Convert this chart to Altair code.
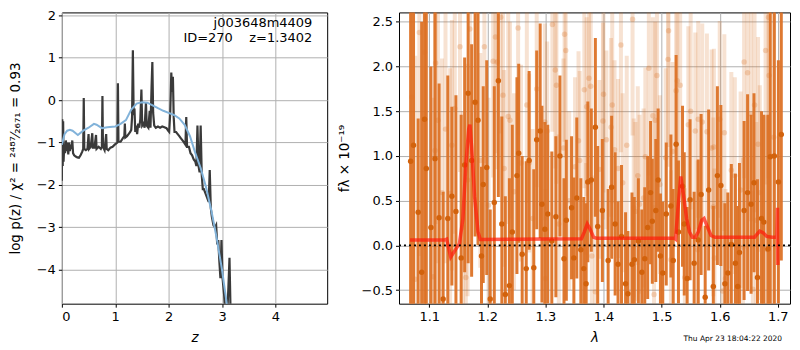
import altair as alt
import pandas as pd

# ---------------- left panel: log p(z) ----------------
pz_z = [0.000, 0.008, 0.016, 0.024, 0.032, 0.045, 0.060, 0.075, 0.090, 0.105, 0.120, 0.135, 0.150, 0.165,
        0.180, 0.195, 0.210, 0.230, 0.260, 0.290, 0.320, 0.350, 0.380, 0.400, 0.410, 0.420, 0.450, 0.480,
        0.500, 0.510, 0.540, 0.570, 0.580, 0.610, 0.640, 0.650, 0.690, 0.730, 0.750, 0.760, 0.770, 0.800,
        0.830, 0.840, 0.870, 0.910, 0.950, 0.990, 1.020, 1.040, 1.050, 1.060, 1.100, 1.140, 1.170, 1.180,
        1.190, 1.220, 1.250, 1.280, 1.300, 1.315, 1.330, 1.345, 1.360, 1.375, 1.390, 1.410, 1.430, 1.450,
        1.470, 1.490, 1.505, 1.530, 1.550, 1.575, 1.590, 1.620, 1.645, 1.660, 1.680, 1.695, 1.710, 1.730,
        1.760, 1.800, 1.840, 1.880, 1.920, 1.960, 1.990, 2.010, 2.030, 2.050, 2.065, 2.080, 2.095, 2.110,
        2.140, 2.170, 2.200, 2.230, 2.260, 2.290, 2.315, 2.330, 2.345, 2.380, 2.410, 2.440, 2.470, 2.500,
        2.520, 2.540, 2.560, 2.580, 2.600, 2.620, 2.640, 2.660, 2.690, 2.720, 2.750, 2.770, 2.790, 2.810,
        2.840, 2.870, 2.890, 2.910, 2.930, 2.950, 2.970, 2.990, 3.010, 3.040, 3.060, 3.100, 3.120, 3.140,
        3.160]
pz_logp = [-1.90, -0.45, -1.55, -0.50, -1.45, -1.05, -1.25, -0.95, -1.20, -1.00, -1.28, -1.00, -1.20, -1.05,
           -1.15, -0.95, -1.25, -1.30, -1.33, -1.35, -1.36, -1.30, -1.22, -1.15, 0.05, -1.15, -1.18, -1.15,
           -0.80, -1.15, -1.10, -0.78, -1.12, -1.12, -0.82, -1.15, -1.10, -1.15, -1.10, 0.10, -1.10, -1.18,
           -0.80, -1.15, -1.18, -1.12, -1.10, -1.05, -1.02, -1.00, 0.40, -0.98, -0.98, -0.90, -0.85, -0.55,
           -0.88, -0.85, -0.80, -0.75, -0.70, -0.40, 1.18, -0.35, -0.20, -0.75, -0.60, -0.80, -0.55, -0.65,
           -0.45, 0.25, -0.60, -0.55, -0.65, -0.05, -0.60, -0.65, -0.25, -0.65, 0.30, 0.90, -0.30, -0.60,
           -0.65, -0.62, -0.65, -0.62, -0.64, -0.66, -0.72, -0.75, -0.30, 0.65, 0.20, 0.55, -0.40, -0.75,
           -0.75, -0.80, -0.85, -0.90, -0.95, -1.00, -1.05, -0.40, -1.10, -1.10, -1.25, -1.30, -1.40, -1.45,
           -1.55, -0.60, -1.55, -1.70, -0.60, -1.75, -2.10, -2.10, -2.20, -2.30, -2.40, -1.65, -2.55, -2.75,
           -2.95, -3.00, -2.95, -3.40, -3.30, -3.80, -4.20, -3.30, -4.20, -4.60, -5.00, -5.00, -4.40, -3.72,
           -5.00]

smooth_z = [0.00, 0.05, 0.10, 0.15, 0.20, 0.30, 0.40, 0.50, 0.60, 0.65, 0.75, 0.85, 1.00, 1.10, 1.20,
            1.30, 1.40, 1.50, 1.60, 1.70, 1.80, 1.90, 2.00, 2.10, 2.20, 2.30, 2.40, 2.50, 2.60, 2.70,
            2.80, 2.90, 3.00, 3.10]
smooth_logp = [-1.05, -0.80, -0.72, -0.70, -0.72, -0.82, -0.72, -0.65, -0.56, -0.58, -0.66, -0.64, -0.62,
               -0.56, -0.47, -0.22, -0.08, -0.05, -0.06, -0.12, -0.19, -0.25, -0.30, -0.35, -0.43, -0.58,
               -0.85, -1.25, -1.60, -2.05, -2.60, -3.25, -4.00, -4.90]

# ---------------- right panel: spectrum ----------------
dark_lam = [1.068, 1.073, 1.081, 1.087, 1.092, 1.095, 1.103, 1.110, 1.117, 1.124, 1.132, 1.139, 1.146, 1.155,
            1.161, 1.167, 1.173, 1.179, 1.184, 1.190, 1.193, 1.199, 1.205, 1.212, 1.219, 1.225, 1.231, 1.238,
            1.243, 1.251, 1.254, 1.260, 1.267, 1.272, 1.280, 1.285, 1.291, 1.294, 1.299, 1.304, 1.311, 1.318,
            1.325, 1.332, 1.336, 1.345, 1.349, 1.354, 1.361, 1.366, 1.370, 1.373, 1.379, 1.386, 1.390, 1.398,
            1.408, 1.414, 1.420, 1.425, 1.431, 1.438, 1.442, 1.449, 1.453, 1.460, 1.466, 1.471, 1.476, 1.481,
            1.484, 1.490, 1.494, 1.498, 1.502, 1.508, 1.516, 1.520, 1.525, 1.529, 1.536, 1.539, 1.544, 1.549,
            1.556, 1.563, 1.568, 1.575, 1.581, 1.589, 1.596, 1.602, 1.609, 1.614, 1.620, 1.627, 1.631, 1.634,
            1.642, 1.648, 1.654, 1.659, 1.665, 1.672, 1.676, 1.683, 1.687, 1.694, 1.701, 1.706]
dark_flux = [0.94, 1.12, 0.37, -0.30, 1.41, 0.86, 0.20, 0.97, 0.31, -0.60, 0.30, 0.55, 0.38, -0.14,
             0.90, 1.70, 0.95, 1.60, 1.40, -0.12, 0.68, 0.87, -0.60, 0.48, 1.84, 0.24, -0.55, -0.45,
             0.15, 0.78, 1.03, -0.10, -0.26, 0.95, -0.25, 1.18, 1.28, 0.46, 0.18, 0.35, 0.05, 0.32,
             1.00, -0.15, 0.28, 0.42, -0.14, 0.53, -0.05, -0.26, -0.43, 0.71, 0.73, 1.32, 0.21, 0.39,
             -0.17, 0.65, 0.24, -0.21, 0.10, -0.43, -0.54, -0.21, -0.16, 0.05, -0.30, -0.15, 0.20, 0.59,
             0.27, 0.39, 0.73, -0.12, -0.31, 0.35, 0.44, -0.17, 1.13, 0.15, 0.66, 0.24, -0.37, 0.51,
             -0.20, 0.06, 0.57, -0.58, 0.62, -0.46, 0.78, 0.67, -0.43, -0.31, 0.01, -0.20, -0.46, -0.08,
             0.39, 0.59, 0.46, 0.70, -0.36, 0.30, 0.26, -0.04, 0.99, 1.00, 0.71, 1.24]
dark_err = [3.0, 2.6, 1.05, 2.8, 2.5, 2.2, 1.8, 2.0, 1.5, 1.2, 1.6, 1.0, 1.3, 1.6,
            1.2, 1.9, 1.3, 1.5, 1.4, 1.0, 1.1, 1.2, 1.0, 1.3, 1.3, 1.2, 1.1, 1.2,
            1.2, 1.1, 1.0, 1.1, 1.2, 1.0, 1.1, 1.0, 1.2, 1.1, 1.2, 1.0, 1.0, 0.9,
            0.9, 0.9, 0.9, 0.8, 0.9, 0.9, 0.8, 0.8, 0.9, 0.9, 0.8, 1.0, 0.9, 0.8,
            0.8, 0.8, 0.8, 0.7, 0.8, 0.8, 0.7, 0.8, 0.7, 0.7, 0.7, 0.8, 0.8, 0.8,
            0.7, 0.8, 0.8, 0.7, 0.8, 0.8, 0.8, 0.8, 1.0, 0.8, 0.9, 0.8, 0.8, 0.9,
            0.8, 0.9, 0.9, 0.8, 0.9, 0.9, 1.0, 0.9, 0.9, 0.9, 0.9, 1.0, 0.9, 1.0,
            1.0, 1.1, 1.0, 1.0, 1.1, 1.2, 1.2, 1.5, 1.8, 2.5, 1.36, 1.41]

light_lam = [1.070, 1.076, 1.083, 1.092, 1.107, 1.110, 1.111, 1.115, 1.122, 1.128, 1.136, 1.139, 1.144,
             1.153, 1.158, 1.163, 1.166, 1.170, 1.181, 1.188, 1.195, 1.202, 1.210, 1.214, 1.217, 1.223,
             1.227, 1.229, 1.236, 1.239, 1.246, 1.253, 1.258, 1.268, 1.272, 1.278, 1.285, 1.299, 1.300,
             1.303, 1.312, 1.317, 1.319, 1.323, 1.331, 1.333, 1.335, 1.341, 1.351, 1.357, 1.359, 1.367,
             1.370, 1.371, 1.375, 1.378, 1.380, 1.386, 1.393, 1.399, 1.400, 1.405, 1.413, 1.415, 1.419,
             1.425, 1.430, 1.433, 1.440, 1.450, 1.452, 1.455, 1.459, 1.462, 1.469, 1.472, 1.478, 1.485,
             1.487, 1.489, 1.492, 1.497, 1.507, 1.511, 1.512, 1.516, 1.519, 1.525, 1.527, 1.532, 1.540,
             1.546, 1.550, 1.558, 1.562, 1.563, 1.570, 1.578, 1.586, 1.589, 1.590, 1.591, 1.600, 1.605,
             1.608, 1.610, 1.620, 1.626, 1.636, 1.640, 1.642, 1.648, 1.654, 1.657, 1.660, 1.663, 1.666,
             1.669, 1.679, 1.682, 1.684, 1.685, 1.693]
light_flux = [1.66, -0.38, 2.38, 2.16, -0.35, 1.06, 2.04, 1.40, 0.59, 1.30, 0.58, 1.12, 1.53,
              2.22, 0.20, -0.36, 0.73, 2.42, 1.59, 0.95, 2.22, 0.45, 2.06, 2.33, 2.05, 2.55,
              1.68, 0.86, 1.44, 1.40, 0.60, 2.43, 0.92, 1.57, 0.92, 0.30, 1.75, 1.38, -0.37,
              1.28, 2.47, 1.96, 1.79, 0.24, 1.09, 2.36, 2.18, 0.50, 0.88, 1.17, 0.95, 1.74,
              -0.08, 1.55, 1.87, 1.78, -0.12, -0.52, 0.85, 1.39, 1.69, 1.18, 1.32, 1.57, 1.07,
              0.86, 2.24, 0.70, 1.12, 2.53, 0.42, 0.38, 0.78, 0.46, 0.53, 0.99, 1.98, 1.45,
              -0.55, 1.40, 1.90, 0.68, 0.98, 2.08, 2.40, -0.16, 1.05, 1.73, 1.84, 1.79, -0.36,
              1.35, 1.50, 1.28, -0.05, 1.41, 1.38, 1.27, 1.09, 0.43, 1.10, -0.14, 1.41, -0.51,
              1.26, -0.37, 0.84, 0.78, 0.62, -0.02, 2.05, 1.93, 1.47, -0.49, 1.57, 0.28, 1.13,
              0.59, 2.18, -0.05, 2.55, 1.90, 1.21]
light_err = [2.5, 2.5, 2.5, 2.0, 2.0, 1.8, 1.8, 1.6, 1.5, 1.5, 1.4, 1.4, 1.4,
             1.4, 1.3, 1.3, 1.3, 1.4, 1.3, 1.2, 1.3, 1.2, 1.3, 1.3, 1.2, 1.3,
             1.2, 1.1, 1.2, 1.1, 1.1, 1.2, 1.1, 1.1, 1.0, 1.0, 1.1, 1.1, 1.0,
             1.0, 1.2, 1.1, 1.1, 1.0, 1.0, 1.2, 1.2, 1.0, 1.0, 1.0, 1.0, 1.1,
             1.0, 1.0, 1.1, 1.1, 0.9, 1.0, 1.0, 1.1, 1.1, 1.0, 1.0, 1.1, 1.0,
             1.0, 1.2, 1.0, 1.0, 1.3, 1.0, 1.0, 1.0, 1.0, 1.0, 1.0, 1.2, 1.1,
             1.0, 1.1, 1.2, 1.0, 1.0, 1.2, 1.3, 1.0, 1.0, 1.1, 1.1, 1.1, 1.0,
             1.1, 1.1, 1.1, 1.0, 1.1, 1.1, 1.1, 1.1, 1.0, 1.1, 1.0, 1.1, 1.0,
             1.1, 1.0, 1.1, 1.1, 1.1, 1.0, 1.3, 1.3, 1.2, 1.1, 1.2, 1.1, 1.2,
             1.2, 1.5, 1.5, 1.8, 1.8, 2.0]

model_lam = [1.067, 1.126, 1.130, 1.137, 1.145, 1.152, 1.158, 1.163, 1.168, 1.170, 1.173, 1.178, 1.184,
             1.188, 1.250, 1.300, 1.362, 1.367, 1.372, 1.377, 1.383, 1.388, 1.450, 1.522, 1.524, 1.528,
             1.533, 1.538, 1.543, 1.548, 1.553, 1.558, 1.563, 1.569, 1.573, 1.578, 1.585, 1.592, 1.620,
             1.660, 1.665, 1.669, 1.675, 1.681, 1.690, 1.6985, 1.6995, 1.7000]
model_flux = [0.06, 0.06, 0.07, -0.13, -0.05, 0.02, 0.30, 0.90, 1.30, 1.35, 1.10, 0.55, 0.15,
              0.065, 0.068, 0.07, 0.075, 0.15, 0.24, 0.18, 0.09, 0.08, 0.08, 0.08, 0.07, 0.40,
              0.77, 0.55, 0.30, 0.15, 0.09, 0.09, 0.15, 0.28, 0.30, 0.22, 0.11, 0.09, 0.09,
              0.09, 0.13, 0.16, 0.14, 0.10, 0.09, 0.09, 0.42, -0.22]

# ---------------- build tables ----------------
pz = pd.DataFrame({"z": pz_z, "logp": pz_logp})
sm = pd.DataFrame({"z": smooth_z, "logp": smooth_logp})
dark = pd.DataFrame({"lam": dark_lam, "flux": dark_flux, "err": dark_err})
dark["lo"] = dark["flux"] - dark["err"]
dark["hi"] = dark["flux"] + dark["err"]
light = pd.DataFrame({"lam": light_lam, "flux": light_flux, "err": light_err})
light["lo"] = light["flux"] - light["err"]
light["hi"] = light["flux"] + light["err"]
model = pd.DataFrame({"lam": model_lam, "flux": model_flux})
model["i"] = range(len(model))
one = pd.DataFrame({"k": [0]})

FONT = "DejaVu Sans"
ORANGE = "#d96d1c"
H = 292

# left panel
lx = alt.X("z:Q", scale=alt.Scale(domain=[0, 4.97], nice=False, zero=False),
           axis=alt.Axis(values=[0, 1, 2, 3, 4], format="d", titleFontStyle="italic", titlePadding=7),
           title="z")
ly = alt.Y("logp:Q", scale=alt.Scale(domain=[-4.8, 2.07], nice=False, zero=False),
           axis=alt.Axis(values=[-4, -3, -2, -1, 0, 1, 2], format="d", titlePadding=13.5),
           title="log p(z) / χ² = ²⁴⁸⁷⁄₂₆₇₁ = 0.93")

black = alt.Chart(pz).mark_line(color="#3a3a3a", strokeWidth=2.2, clip=True).encode(x=lx, y=ly)
blue = alt.Chart(sm).mark_line(color="#82b3da", strokeWidth=2, clip=True).encode(x=lx, y=ly)
t1 = alt.Chart(one).mark_text(align="right", baseline="middle", fontSize=13, font=FONT).encode(
    x=alt.value(251), y=alt.value(10.5), text=alt.value("j003648m4409"))
t2 = alt.Chart(one).mark_text(align="right", baseline="middle", fontSize=13, font=FONT).encode(
    x=alt.value(251), y=alt.value(25.5), text=alt.value("ID=270\u00a0\u00a0\u00a0\u00a0z=1.3402"))
left = alt.layer(black, blue, t1, t2).properties(width=266, height=H)

# right panel
rxs = alt.Scale(domain=[1.048, 1.721], nice=False, zero=False)
rys = alt.Scale(domain=[-0.652, 2.605], nice=False, zero=False)
rxaxis = alt.Axis(values=[1.1, 1.2, 1.3, 1.4, 1.5, 1.6, 1.7], format=".1f",
                  titleFontStyle="italic", titlePadding=7)
ryaxis = alt.Axis(values=[-0.5, 0, 0.5, 1.0, 1.5, 2.0, 2.5], format=".1f", titlePadding=10)
RYT = "fλ × 10⁻¹⁹"
rx = alt.X("lam:Q", scale=rxs, axis=rxaxis, title="λ")


def ryf(field):
    return alt.Y(field, scale=rys, axis=ryaxis, title=RYT)


lbar = alt.Chart(light).mark_rule(color=ORANGE, opacity=0.2, strokeWidth=4, clip=True).encode(
    x=rx, y=ryf("lo:Q"), y2="hi:Q")
lpt = alt.Chart(light).mark_circle(color=ORANGE, opacity=0.25, size=30, clip=True).encode(
    x=rx, y=ryf("flux:Q"))
dbar = alt.Chart(dark).mark_rule(color="#dc7226", opacity=0.95, strokeWidth=3, clip=True).encode(
    x=rx, y=ryf("lo:Q"), y2="hi:Q")
dpt = alt.Chart(dark).mark_circle(color="#d2620c", opacity=1, size=30, clip=True).encode(
    x=rx, y=ryf("flux:Q"))
red = alt.Chart(model).mark_line(color="#ff1a0a", opacity=0.7, strokeWidth=3.5, clip=True).encode(
    x=rx, y=ryf("flux:Q"), order="i:Q")
zero = alt.Chart(one).mark_rule(color="black", strokeDash=[2, 3], strokeWidth=1.6).encode(
    y=alt.datum(0, scale=rys, axis=ryaxis, title=RYT))
stamp = alt.Chart(one).mark_text(align="right", baseline="middle", fontSize=7.5, font=FONT).encode(
    x=alt.value(384), y=alt.value(327), text=alt.value("Thu Apr 23 18:04:22 2020"))
right = alt.layer(lbar, lpt, dbar, dpt, red, zero, stamp).properties(width=392, height=H)

chart = alt.hconcat(left, right, spacing=8).properties(padding=0).configure(
    font=FONT
).configure_view(stroke="black", strokeWidth=1).configure_axis(
    grid=True, gridColor="#b0b0b0", gridWidth=1, domain=False, tickColor="black", tickSize=3.5,
    labelFontSize=13, titleFontSize=13.5, labelColor="black", titleColor="black",
    labelFont=FONT, titleFont=FONT, titleFontWeight="normal", labelPadding=3
)

chart.save("out.html", embed_options={"renderer": "svg", "actions": False})
